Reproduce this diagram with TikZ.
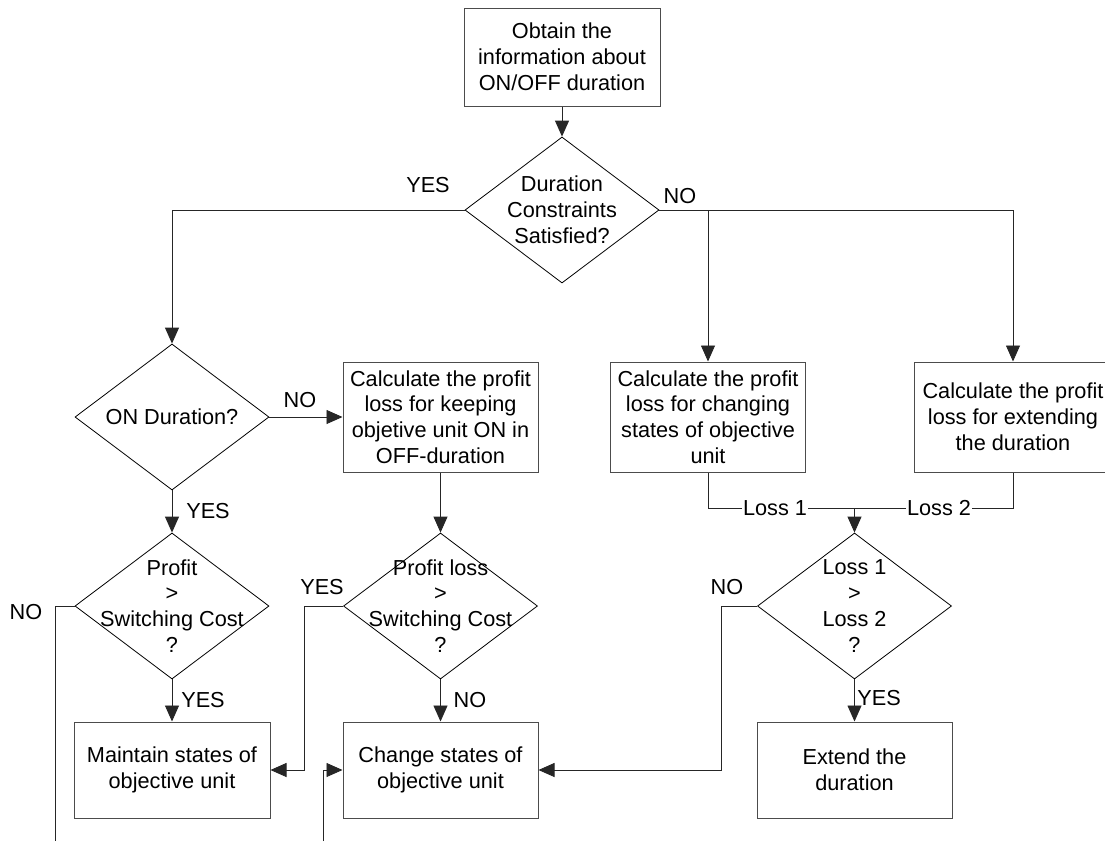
\documentclass[tikz,border=0pt]{standalone}
\usepackage{fontspec}
\setmainfont{Liberation Sans}
\usetikzlibrary{shapes.geometric,arrows.meta}

\tikzset{
  flowbox/.style={draw=black!70, line width=1pt, fill=white, align=center,
    inner sep=0pt, minimum width=195pt},
  decision/.style={diamond, draw=black, line width=0.8pt, fill=white,
    inner sep=0pt, minimum width=194pt, minimum height=146pt},
  dtext/.style={align=center, inner sep=0pt},
  tag/.style={inner sep=0pt},
  loss/.style={fill=white, inner sep=0.6pt},
  conn/.style={draw=black!85, line width=0.9pt},
  flow/.style={conn, -{Triangle[length=16pt,width=14pt]}},
}

\begin{document}
\begin{tikzpicture}[x=1pt, y=-1pt, font=\fontsize{21.7}{25.8}\selectfont]
  \fill[white] (0,0) rectangle (1105,841);
  \useasboundingbox (0,0) rectangle (1105,841);

  % process boxes
  \node[flowbox, minimum width=196pt, minimum height=98pt] (obtain) at (562,57)
    {Obtain the\\information about\\ON/OFF duration};
  \node[flowbox, minimum height=110pt] (keep) at (440.5,417)
    {Calculate the profit\\loss for keeping\\objetive unit ON in\\OFF-duration};
  \node[flowbox, minimum height=110pt] (lchange) at (708,417)
    {Calculate the profit\\loss for changing\\states of objective\\unit};
  \node[flowbox, minimum width=198pt, minimum height=110pt] (lextend) at (1013,417)
    {Calculate the profit\\loss for extending\\the duration};
  \node[flowbox, minimum width=196pt, minimum height=96pt] (maintain) at (172,770)
    {Maintain states of\\objective unit};
  \node[flowbox, minimum height=96pt] (change) at (440.5,770)
    {Change states of\\objective unit};
  \node[flowbox, minimum height=96pt] (extend) at (854.5,770)
    {Extend the\\duration};

  % decisions (outline, then the question on top)
  \node[decision] (dur) at (562,210) {};
  \node[dtext] (durt) at (dur.center) {Duration\\Constraints\\Satisfied?};
  \node[decision] (on) at (172,417) {};
  \node[dtext] (ont) at (on.center) {ON Duration?};
  \node[decision] (profit) at (172,606) {};
  \node[decision] (ploss) at (440.5,606) {};
  \node[decision] (lcmp) at (854.5,606) {};

  % open ends and bends
  \coordinate (noend) at (55,841);
  \coordinate (chin) at (323,841);
  \coordinate (yesbend) at (304,606);
  \coordinate (nobend) at (721,606);
  \coordinate (join) at (854.5,508);

  % connectors
  \draw[flow] (obtain) -- (dur.north);
  \draw[flow] (dur.west) -| (on.north);
  \draw[flow] (dur.east) -| (lextend.north);
  \draw[flow] (lchange.north |- dur.east) -- (lchange.north);
  \draw[flow] (on.east) -- (keep.west);
  \draw[flow] (on.south) -- (profit.north);
  \draw[flow] (keep.south) -- (ploss.north);
  \draw[flow] (profit.south) -- (maintain.north);
  \draw[conn] (profit.west) -| (noend);
  \draw[flow] (ploss.west) -- (yesbend) |- (maintain.east);
  \draw[flow] (ploss.south) -- (change.north);
  \draw[flow] (chin) |- (change.west);
  \draw[conn] (lchange.south) |- (join);
  \draw[conn] (lextend.south) |- (join);
  \draw[flow] (join) -- (lcmp.north);
  \draw[flow] (lcmp.west) -- (nobend) |- (change.east);
  \draw[flow] (lcmp.south) -- (extend.north);

  % questions drawn over the connectors
  \node[dtext] (profitt) at (profit.center) {Profit\\>\\Switching Cost\\?};
  \node[dtext] (plosst) at (ploss.center) {Profit loss\\>\\Switching Cost\\?};
  \node[dtext] (lcmpt) at (lcmp.center) {Loss 1\\>\\Loss 2\\?};

  % branch labels
  \node[tag] (y1) at (428,185) {YES};
  \node[tag] (n1) at (680,196) {NO};
  \node[tag] (n2) at (300,400) {NO};
  \node[tag] (y2) at (208,511) {YES};
  \node[tag] (n3) at (26,612) {NO};
  \node[tag] (y3) at (322,587) {YES};
  \node[tag] (y4) at (203,700) {YES};
  \node[tag] (n4) at (470,700) {NO};
  \node[tag] (n5) at (727,587) {NO};
  \node[tag] (y5) at (879,698) {YES};
  \node[loss] (l1) at (775,508) {Loss 1};
  \node[loss] (l2) at (939,508) {Loss 2};
\end{tikzpicture}
\end{document}
